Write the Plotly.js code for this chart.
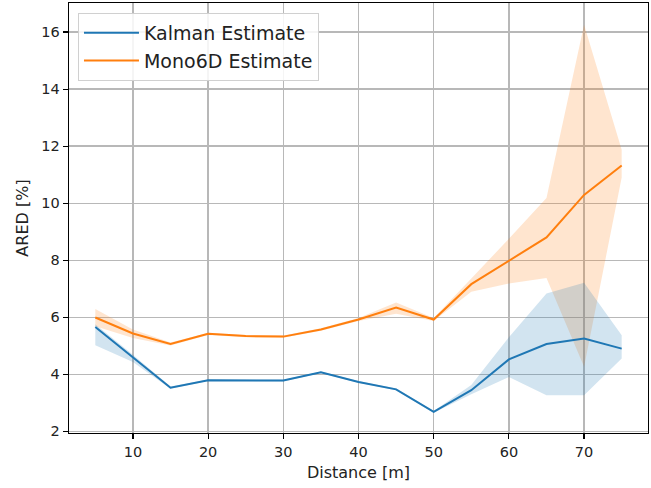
<!DOCTYPE html>
<html>
<head>
<meta charset="utf-8">
<script src="https://cdn.plot.ly/plotly-3.0.1.min.js"></script>
<style>html,body{margin:0;padding:0;background:#fff;}#chart{width:651px;height:488px;}</style>
</head>
<body>
<div id="chart"></div>
<script>
const distance = [5, 10, 15, 20, 25, 30, 35, 40, 45, 50, 55, 60, 65, 70, 75];

const kalmanMean  = [5.66, 4.59, 3.53, 3.79, 3.79, 3.78, 4.07, 3.73, 3.47, 2.68, 3.44, 4.52, 5.06, 5.25, 4.90];
const kalmanUpper = [5.75, 4.68, 3.57, 3.82, 3.82, 3.81, 4.10, 3.76, 3.50, 2.71, 3.62, 5.30, 6.83, 7.21, 5.37];
const kalmanLower = [5.02, 4.43, 3.49, 3.76, 3.76, 3.75, 4.04, 3.70, 3.44, 2.65, 3.30, 3.90, 3.26, 3.26, 4.55];

const monoMean  = [5.99, 5.43, 5.06, 5.42, 5.34, 5.32, 5.57, 5.92, 6.34, 5.92, 7.16, 7.99, 8.80, 10.29, 11.32];
const monoUpper = [6.29, 5.57, 5.11, 5.46, 5.38, 5.36, 5.61, 5.97, 6.52, 5.97, 7.36, 8.75, 10.18, 16.26, 11.87];
const monoLower = [5.68, 5.27, 5.01, 5.38, 5.30, 5.28, 5.53, 5.87, 6.12, 5.87, 6.89, 7.18, 7.38, 4.26, 10.90];

const xTicks = [10, 20, 30, 40, 50, 60, 70];
const yTicks = [2, 4, 6, 8, 10, 12, 14, 16];

const blue = '#1f77b4', orange = '#ff7f0e';
const blueFill = 'rgba(31,119,180,0.2)', orangeFill = 'rgba(255,127,14,0.2)';

const traces = [
  {x: distance, y: monoLower, mode: 'lines', line: {width: 0}, showlegend: false, hoverinfo: 'skip'},
  {x: distance, y: monoUpper, mode: 'lines', line: {width: 0}, fill: 'tonexty', fillcolor: orangeFill, showlegend: false, hoverinfo: 'skip'},
  {x: distance, y: kalmanLower, mode: 'lines', line: {width: 0}, showlegend: false, hoverinfo: 'skip'},
  {x: distance, y: kalmanUpper, mode: 'lines', line: {width: 0}, fill: 'tonexty', fillcolor: blueFill, showlegend: false, hoverinfo: 'skip'},
  {x: distance, y: kalmanMean, mode: 'lines', name: 'Kalman Estimate', line: {color: blue, width: 2}},
  {x: distance, y: monoMean, mode: 'lines', name: 'Mono6D Estimate', line: {color: orange, width: 2}}
];

const axisCommon = {
  showgrid: true, gridcolor: '#b8b8b8', gridwidth: 1.3,
  showline: true, linecolor: '#000', linewidth: 1.3, mirror: true,
  ticks: 'outside', ticklen: 5, tickwidth: 1.2, tickcolor: '#000',
  zeroline: false,
  tickfont: {family: 'DejaVu Sans', size: 14.5, color: '#222'}
};

const layout = {
  width: 651, height: 488,
  margin: {l: 69, r: 3, t: 3, b: 55},
  paper_bgcolor: '#fff', plot_bgcolor: '#fff',
  font: {family: 'DejaVu Sans', color: '#222'},
  xaxis: Object.assign({}, axisCommon, {
    range: [1.5, 78.5], tickvals: xTicks, ticktext: xTicks.map(String),
    title: {text: 'Distance [m]', font: {family: 'DejaVu Sans', size: 16, color: '#222'}, standoff: 8}
  }),
  yaxis: Object.assign({}, axisCommon, {
    range: [1.94, 17.02], tickvals: yTicks, ticktext: yTicks.map(String),
    title: {text: 'ARED [%]', font: {family: 'DejaVu Sans', size: 16, color: '#222'}, standoff: 8}
  }),
  legend: {
    x: 0.0155, y: 0.977, xanchor: 'left', yanchor: 'top',
    bgcolor: 'rgba(255,255,255,0.85)', bordercolor: '#d0d0d0', borderwidth: 1,
    font: {family: 'DejaVu Sans', size: 19, color: '#222'},
    traceorder: 'normal', itemwidth: 55
  },
  showlegend: true
};

Plotly.newPlot('chart', traces, layout, {displayModeBar: false, staticPlot: true});
</script>
</body>
</html>
